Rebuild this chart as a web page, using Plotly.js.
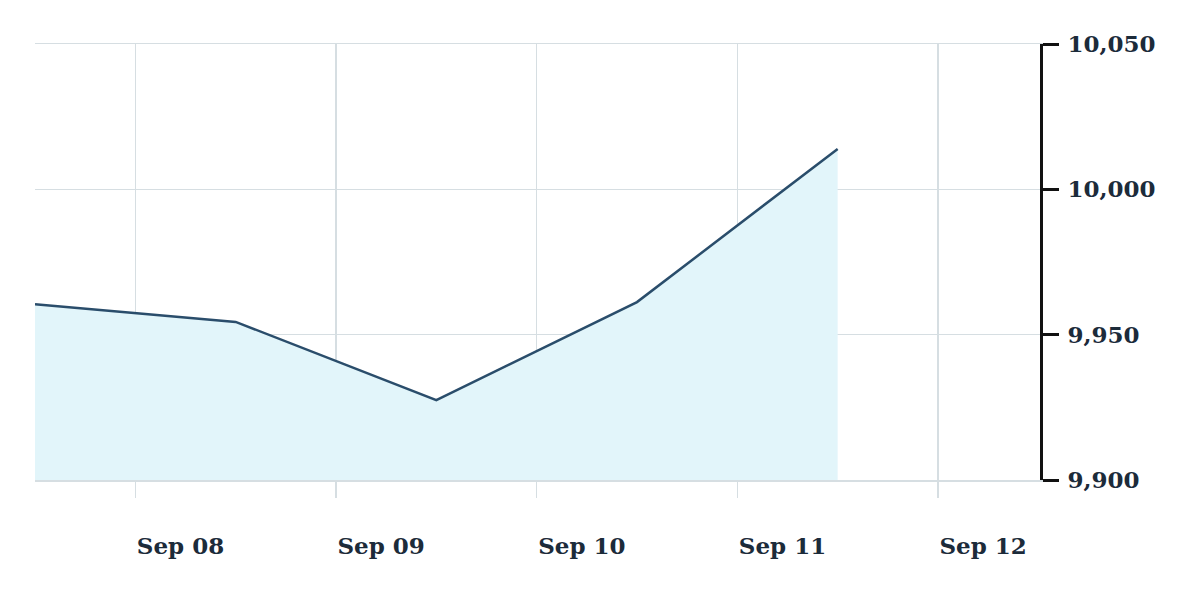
<!DOCTYPE html>
<html>
<head>
<meta charset="utf-8">
<script src="https://cdn.plot.ly/plotly-3.0.1.min.js"></script>
<style>html,body{margin:0;padding:0;background:#fff;}#chart{width:1200px;height:612px;}</style>
</head>
<body>
<div id="chart"></div>
<script>
const dates = ['2023-09-07 12:00', '2023-09-08 12:00', '2023-09-09 12:00', '2023-09-10 12:00', '2023-09-11 12:00'];
const values = [9960.5, 9954.4, 9927.5, 9961.2, 10013.9];
const xTickVals = ['2023-09-08', '2023-09-09', '2023-09-10', '2023-09-11', '2023-09-12'];
const xTickText = ['Sep 08', 'Sep 09', 'Sep 10', 'Sep 11', 'Sep 12'];
const yTickVals = [9900, 9950, 10000, 10050];
const yTickText = ['9,900', '9,950', '10,000', '10,050'];

const fontFam = '"DejaVu Serif", "Liberation Serif", serif';

const trace = {
  x: dates,
  y: values,
  type: 'scatter',
  mode: 'lines',
  fill: 'tozeroy',
  fillcolor: '#e2f5fa',
  line: {color: '#2a4d6b', width: 2.5},
  hoverinfo: 'skip'
};

const layout = {
  width: 1200,
  height: 612,
  margin: {l: 35, r: 160, t: 44, b: 132},
  paper_bgcolor: '#ffffff',
  plot_bgcolor: '#ffffff',
  showlegend: false,
  xaxis: {
    type: 'date',
    range: ['2023-09-07 12:00', '2023-09-12 12:12'],
    tickmode: 'array',
    tickvals: xTickVals,
    ticktext: xTickText,
    showgrid: true,
    gridcolor: '#d6dee2',
    gridwidth: 1.5,
    ticks: 'outside',
    ticklen: 16,
    tickwidth: 1.5,
    tickcolor: '#d6dee2',
    ticklabelposition: 'outside right',
    ticklabelstandoff: 45,
    showline: true,
    mirror: true,
    linecolor: '#d6dee2',
    linewidth: 1.5,
    zeroline: false,
    tickfont: {family: fontFam, size: 23, color: '#1c2b3a', weight: 'bold'},
    fixedrange: true
  },
  yaxis: {
    side: 'right',
    range: [9900, 10050],
    tickmode: 'array',
    tickvals: yTickVals,
    ticktext: yTickText,
    showgrid: true,
    gridcolor: '#d6dee2',
    gridwidth: 1.5,
    showline: true,
    linecolor: '#111111',
    linewidth: 3,
    ticks: 'outside',
    ticklen: 16,
    tickwidth: 3,
    tickcolor: '#111111',
    ticklabelstandoff: 4,
    zeroline: false,
    tickfont: {family: fontFam, size: 23, color: '#1c2b3a', weight: 'bold'},
    fixedrange: true
  }
};

Plotly.newPlot('chart', [trace], layout, {displayModeBar: false, staticPlot: true});
</script>
</body>
</html>
